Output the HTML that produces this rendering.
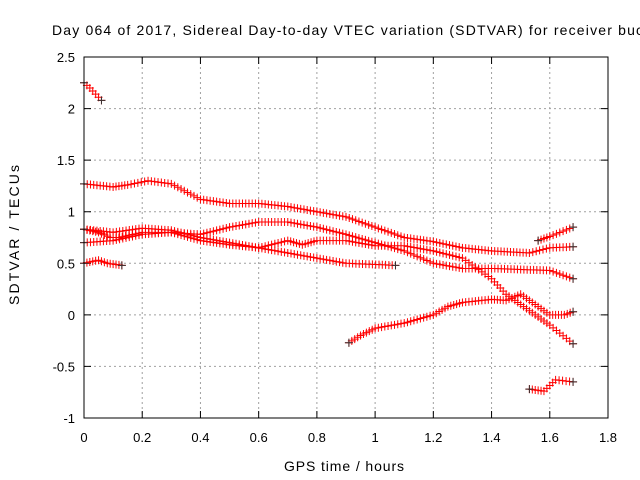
<!DOCTYPE html>
<html><head><meta charset="utf-8"><style>
body{margin:0;background:#fff}
svg{display:block;font-family:"Liberation Sans",sans-serif}
</style></head><body>
<svg id="chart" width="640" height="480">
<text x="52" y="35" font-size="14" textLength="600" lengthAdjust="spacing">Day 064 of 2017, Sidereal Day-to-day VTEC variation (SDTVAR) for receiver bucu</text>
<text x="284" y="471" font-size="14" textLength="120" lengthAdjust="spacing">GPS time / hours</text>
<text transform="translate(19,305) rotate(-90)" font-size="14" textLength="140" lengthAdjust="spacing">SDTVAR / TECUs</text>
<g id="grid"></g><g id="ticks"></g><g id="marks"></g>
<rect x="84" y="57" width="524" height="361" fill="none" stroke="#000"/>
</svg>
<script>
const xTicks=[0,0.2,0.4,0.6,0.8,1,1.2,1.4,1.6,1.8];
const xTickLabels=["0","0.2","0.4","0.6","0.8","1","1.2","1.4","1.6","1.8"];
const yTicks=[-1,-0.5,0,0.5,1,1.5,2,2.5];
const yTickLabels=["-1","-0.5","0","0.5","1","1.5","2","2.5"];
const trackA_t=[0,0.1,0.15,0.22,0.3,0.4,0.5,0.6,0.7,0.8,0.9,1.0,1.1,1.2,1.3,1.4,1.53,1.6,1.68];
const trackA_v=[1.27,1.24,1.26,1.30,1.27,1.12,1.08,1.08,1.05,1.0,0.95,0.85,0.75,0.71,0.65,0.62,0.6,0.65,0.66];
const trackB_t=[0,0.1,0.2,0.3,0.4,0.5,0.6,0.7,0.8,0.9,1.07];
const trackB_v=[0.83,0.8,0.84,0.82,0.75,0.7,0.65,0.6,0.55,0.5,0.48];
const trackC_t=[0,0.1,0.2,0.3,0.4,0.5,0.6,0.7,0.8,0.9,1.0,1.1,1.2,1.3,1.4,1.5,1.6,1.68];
const trackC_v=[0.7,0.72,0.78,0.8,0.78,0.85,0.9,0.9,0.85,0.78,0.7,0.62,0.5,0.45,0.45,0.44,0.43,0.35];
const trackD_t=[0,0.05,0.09,0.12,0.2,0.3,0.4,0.5,0.6,0.7,0.75,0.8,0.9,1.0,1.1,1.2,1.3,1.4,1.45,1.5,1.55,1.6,1.68];
const trackD_v=[0.83,0.8,0.75,0.75,0.8,0.8,0.72,0.68,0.65,0.72,0.68,0.72,0.72,0.67,0.67,0.62,0.55,0.35,0.2,0.1,0.0,-0.1,-0.28];
const trackE_t=[0,0.05,0.08,0.13];
const trackE_v=[0.5,0.53,0.5,0.48];
const trackF_t=[1.56,1.6,1.68];
const trackF_v=[0.72,0.76,0.85];
const trackG_t=[0,0.02,0.06];
const trackG_v=[2.25,2.2,2.08];
const trackH_t=[0.91,0.95,1.0,1.1,1.2,1.25,1.3,1.4,1.45,1.5,1.55,1.6,1.65,1.68];
const trackH_v=[-0.27,-0.2,-0.13,-0.08,0.0,0.08,0.12,0.15,0.14,0.2,0.1,0.0,0.0,0.03];
const trackI_t=[1.53,1.58,1.62,1.68];
const trackI_v=[-0.72,-0.74,-0.63,-0.65];
const tracks=[[trackA_t,trackA_v],[trackB_t,trackB_v],[trackC_t,trackC_v],[trackD_t,trackD_v],[trackE_t,trackE_v],[trackF_t,trackF_v],[trackG_t,trackG_v],[trackH_t,trackH_v],[trackI_t,trackI_v]];
const NS="http://www.w3.org/2000/svg";
const X=t=>84+t/1.8*524, Y=v=>418-(v+1)/3.5*361;
function mk(tag,attrs,parent){const e=document.createElementNS(NS,tag);for(const k in attrs)e.setAttribute(k,attrs[k]);parent.appendChild(e);return e;}
const grid=document.getElementById('grid'),ticks=document.getElementById('ticks'),marks=document.getElementById('marks');
xTicks.forEach((t,i)=>{const x=X(t);
 if(i>0&&i<xTicks.length-1){const g=mk('line',{x1:x,x2:x,y1:57,y2:418,stroke:'#a0a0a0','stroke-dasharray':'2,3'},grid);
 
 }
 mk('path',{d:`M${x},418v-7M${x},57v7`,stroke:'#000'},ticks);
 const l=mk('text',{x:x,y:442,'font-size':13,'text-anchor':'middle'},ticks);l.textContent=xTickLabels[i];
 
 });
yTicks.forEach((v,i)=>{const y=Y(v);
 if(i>0&&i<yTicks.length-1){const g=mk('line',{x1:84,x2:608,y1:y,y2:y,stroke:'#a0a0a0','stroke-dasharray':'2,3'},grid);
 
 }
 mk('path',{d:`M84,${y}h7M608,${y}h-7`,stroke:'#000'},ticks);
 const l=mk('text',{x:75,y:y+5,'font-size':13,'text-anchor':'end'},ticks);l.textContent=yTickLabels[i];
 
 });
tracks.forEach(([ts,vs],k)=>{
 const g=mk('g',{},marks);
 
 
 let d='';
 const plus=(t,v)=>{const x=X(t),y=Y(v);return `M${x-4},${y}h8M${x},${y-4}v8`;};
 for(let i=0;i<ts.length;i++){
  if(i>0){const n=Math.max(1,Math.round((ts[i]-ts[i-1])/0.011));
   for(let j=1;j<n;j++){const f=j/n;d+=plus(ts[i-1]+f*(ts[i]-ts[i-1]),vs[i-1]+f*(vs[i]-vs[i-1]));}}
  d+=plus(ts[i],vs[i]);}
 mk('path',{d:d,stroke:'#ff0000','stroke-width':1,fill:'none'},g);
 [0,ts.length-1].forEach(i=>{const p=mk('path',{d:plus(ts[i],vs[i]),stroke:'#333','stroke-width':1},g);
  
  });
});
</script>
</body></html>
